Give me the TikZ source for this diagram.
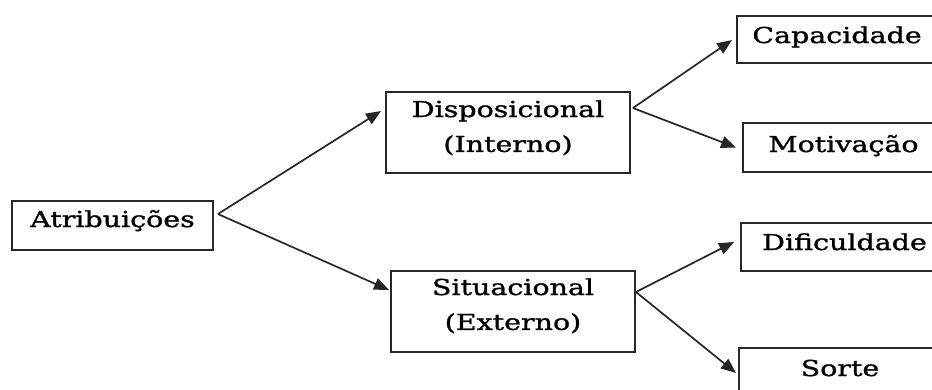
\documentclass[tikz,border=0pt]{standalone}
\usepackage{fontspec}
\setmainfont{DejaVu Serif}[FakeStretch=1.3,FakeBold=1.3]
\usetikzlibrary{arrows.meta,calc}
\begin{document}
\begin{tikzpicture}[x=1bp,y=-1bp,
  box/.style={draw=black!85, line width=1.9bp, inner xsep=0pt, inner ysep=0pt,
    anchor=base, font=\fontsize{22}{35}\selectfont},
  arr/.style={draw=black!85, line width=1.7bp,
    -{Triangle[length=15bp,width=12bp]}}]
\useasboundingbox (0,0) rectangle (932,389);
\clip (0,0) rectangle (932,389);

% root
\node[box, minimum width=201bp, text height=26bp, text depth=23bp]
  (attr) at (112.5,227) {Atribuições};

% second level
\node[box, minimum width=244bp, text height=25bp, text depth=56bp]
  (disp) at (508,117) {\begin{tabular}[t]{@{}c@{}}Disposicional\\(Interno)\end{tabular}};
\node[box, minimum width=244bp, text height=24bp, text depth=57bp]
  (sit) at (513,295) {\begin{tabular}[t]{@{}c@{}}Situacional\\(Externo)\end{tabular}};

% leaves
\node[box, minimum width=200bp, text height=27bp, text depth=20bp]
  (cap) at (837,43) {Capacidade};
\node[box, minimum width=201bp, text height=29bp, text depth=20bp]
  (mot) at (843.5,152) {Motivação};
\node[box, minimum width=207bp, text height=27bp, text depth=21bp]
  (dif) at (844.5,250) {Dificuldade};
\node[box, minimum width=202bp, text height=28bp, text depth=21bp]
  (sor) at (840,376) {Sorte};

% connectors
\draw[arr] ($(attr.east)+(4,-11.5)$) -- ($(disp.west)+(-4,-21.5)$);
\draw[arr] ($(attr.east)+(4,-11.5)$) -- ($(sit.west)+(-1,-21.5)$);
\draw[arr] ($(disp.east)+(2,-24.5)$) -- ($(cap.west)+(-4,0.5)$);
\draw[arr] ($(disp.east)+(2,-24.5)$) -- ($(mot.west)+(-6,0)$);
\draw[arr] ($(sit.east)+(0,-19.5)$) -- ($(dif.west)+(-6,-5)$);
\draw[arr] ($(sit.east)+(0,-19.5)$) -- ($(sor.west)+(-2,0.5)$);
\end{tikzpicture}
\end{document}
